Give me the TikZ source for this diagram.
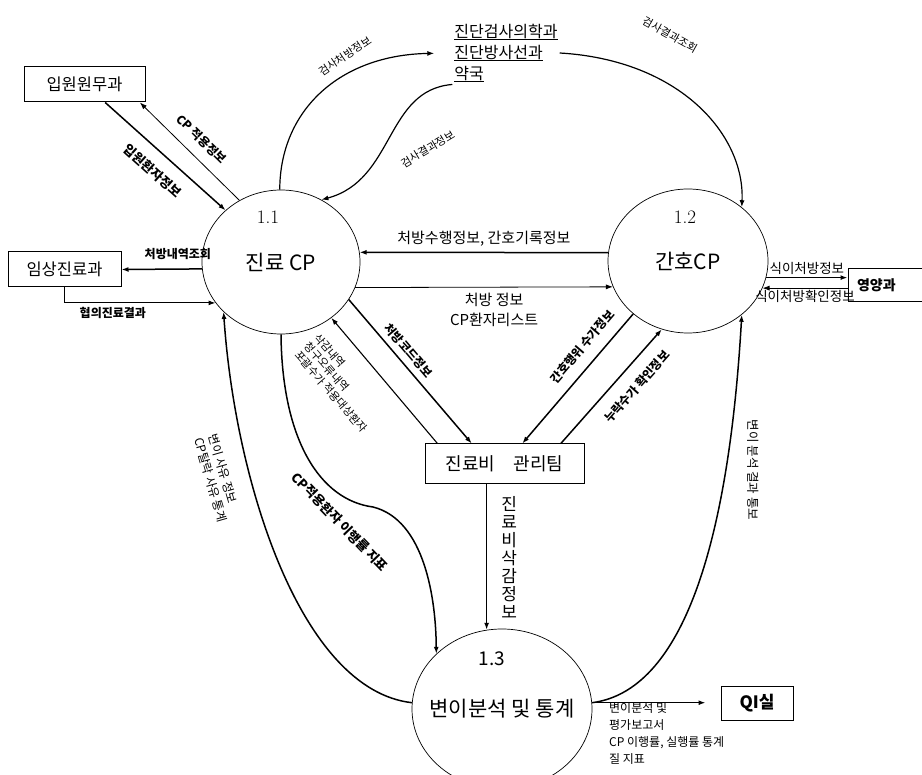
\documentclass[tikz,border=0pt]{standalone}
\usepackage{fontspec}
\newfontfamily\kr{Noto Sans CJK KR}
\usetikzlibrary{arrows.meta,shapes.geometric}

\begin{document}
\begin{tikzpicture}[x=1pt,y=-1pt,>={Latex[length=7pt,width=5pt]},
  proc/.style={draw,ellipse,line width=0.7pt,inner sep=0pt},
  ext/.style={draw,line width=1pt,inner sep=0pt,font=\kr\fontsize{16.5}{18}\selectfont},
  big/.style={font=\kr\fontsize{21}{24}\selectfont},
  num/.style={font=\fontsize{19}{22}\selectfont},
  lbl/.style={font=\kr\fontsize{13.5}{16}\selectfont,inner sep=1pt},
  slbl/.style={font=\kr\fontsize{11}{13}\selectfont,inner sep=1pt},
  blbl/.style={font=\kr\bfseries\fontsize{12}{14}\selectfont,inner sep=1pt},
  flow/.style={->,line width=0.8pt},
  bflow/.style={->,line width=1.5pt}]
  \useasboundingbox (0,0) rectangle (922,775);

  \node[proc,minimum width=158pt,minimum height=144pt,label={[big]center:진료 CP}] (cpmain) at (281,262) {};
  \node[proc,minimum width=160pt,minimum height=144pt,label={[big]center:간호CP}] (cpnurse) at (688,261) {};
  \node[proc,minimum width=180pt,minimum height=160pt,label={[big]center:변이분석 및 통계}] (varstat) at (502,709) {};
  \node[num] (n11) at (268,217) {1.1};
  \node[num] (n12) at (685,217) {1.2};
  \node[num,font=\kr\fontsize{19}{22}\selectfont] (n13) at (492,659) {1.3};

  \node[ext,minimum width=121pt,minimum height=35pt] (admit) at (84.5,84.5) {입원원무과};
  \node[ext,minimum width=113pt,minimum height=35pt] (clinic) at (64.5,269.5) {임상진료과};
  \node[ext,minimum width=159pt,minimum height=40pt,font=\kr\fontsize{18}{20}\selectfont] (feeteam) at (504.5,464) {진료비\quad 관리팀};
  \node[ext,minimum height=33pt,text width=62pt,align=left,inner xsep=9pt,font=\kr\bfseries\fontsize{14}{16}\selectfont] (diet) at (888,285.5) {영양과};
  \node[ext,minimum width=72pt,minimum height=34pt,font=\kr\bfseries\fontsize{17}{19}\selectfont] (qiroom) at (757,703) {QI실};
  \node[align=left,inner sep=2pt,font=\kr\fontsize{16}{21}\selectfont] (labs) at (506,53)
    {\underline{진단검사의학과}\\\underline{진단방사선과}\\\underline{약국}};

  \draw[bflow] (admit.-41) -- node[blbl,sloped,below=11pt,font=\kr\bfseries\fontsize{13}{15}\selectfont] {입원환자정보} (cpmain.137);
  \draw[flow,<-] (admit.-18) -- node[blbl,sloped,above=10pt] {CP 적용정보} (cpmain.124);
  \draw[bflow,<-] (clinic.east) -- node[blbl,above=8pt,pos=0.7] {처방내역조회} (cpmain.185);
  \draw[bflow,line width=1.1pt] (clinic.south) |- node[blbl,below=3pt,pos=0.66] {협의진료결과} (cpmain.212);

  \draw[flow,line width=1.2pt,shorten >=18pt] (cpmain.91) .. controls (280,110) and (340,55) .. (labs.west);
  \draw[flow,line width=1.2pt] (labs.south west) .. controls (385,90) and (395,180) .. (cpmain.57);
  \draw[flow,line width=1.2pt] (labs.east) .. controls (680,60) and (745,135) .. (cpnurse.45);
  \node[slbl,rotate=34] (lbA) at (345,56) {검사처방정보};
  \node[slbl,rotate=31] (lbB) at (428,149) {검사결과정보};
  \node[slbl,rotate=-29] (lbC) at (670,35) {검사결과조회};

  \draw[bflow,<-] (cpmain.7) -- node[lbl,above=4pt,font=\kr\fontsize{15}{18}\selectfont] {처방수행정보, 간호기록정보} (cpnurse.174);
  \draw[flow] (cpmain.341) -- node[lbl,below=4pt,align=center,xshift=10pt,font=\kr\fontsize{15}{20}\selectfont] {처방 정보\\CP환자리스트} (cpnurse.199);

  \draw[bflow] (cpnurse.348) -- node[lbl,above=1pt] {식이처방정보} (cpnurse.348 -| diet.west);
  \draw[flow,<-] (cpnurse.340) -- node[lbl,below=1pt] {식이처방확인정보} (cpnurse.340 -| diet.west);

  \draw[bflow] (cpmain.331) -- node[blbl,sloped,above=5pt,pos=0.41] {처방코드정보} (feeteam.148);
  \draw[bflow,<-,line width=1.1pt] (cpmain.312) -- (feeteam.163);
  \node[slbl,rotate=-49,align=left] (lbH) at (341,383) {삭감내역\\청구오류내역\\포괄수가 적용대상환자};
  \draw[bflow,<-] (feeteam.49) -- node[blbl,sloped,above=10pt,pos=0.66] {간호행위 수가정보} (cpnurse.224);
  \draw[bflow] (feeteam.20) -- node[blbl,sloped,below=12pt,pos=0.61] {누락수가 확인정보} (cpnurse.249);

  \draw[bflow] (feeteam.south -| varstat.101) -- node[right=14pt,align=center,font=\kr\fontsize{17}{18}\selectfont,inner sep=0pt] {진\\료\\비\\삭\\감\\정\\보} (varstat.101);

  \draw[bflow,<-] (cpmain.221) .. controls (235,480) and (300,690) .. (varstat.176);
  \node[lbl,rotate=-74,align=left,font=\kr\fontsize{12}{15}\selectfont] (lbD) at (218,478) {변이 사유 정보\\CP탈락 사유 통계};

  \coordinate (bend) at (373,507);
  \draw[bflow] (cpmain.270) .. controls (282,440) and (320,500) .. (bend) .. controls (425,520) and (436,600) .. (varstat.140);
  \node[blbl,rotate=-46,font=\kr\bfseries\fontsize{13}{15}\selectfont] (lbE) at (340,522) {CP적용환자 이행률 지표};

  \draw[bflow] (varstat.4) .. controls (690,690) and (730,520) .. (cpnurse.315);
  \node[lbl,rotate=-90,font=\kr\fontsize{12.5}{15}\selectfont] (lbF) at (753,470) {변이 분석 결과 통보};

  \draw[bflow,shorten >=15pt] (varstat.4) -- (varstat.4 -| qiroom.west);
  \node[anchor=north west,align=left,inner sep=0pt,font=\kr\fontsize{12}{17}\selectfont] (lbG) at (609,702)
    {변이분석 및\\평가보고서\\CP 이행률, 실행률 통계\\질 지표};
\end{tikzpicture}
\end{document}
